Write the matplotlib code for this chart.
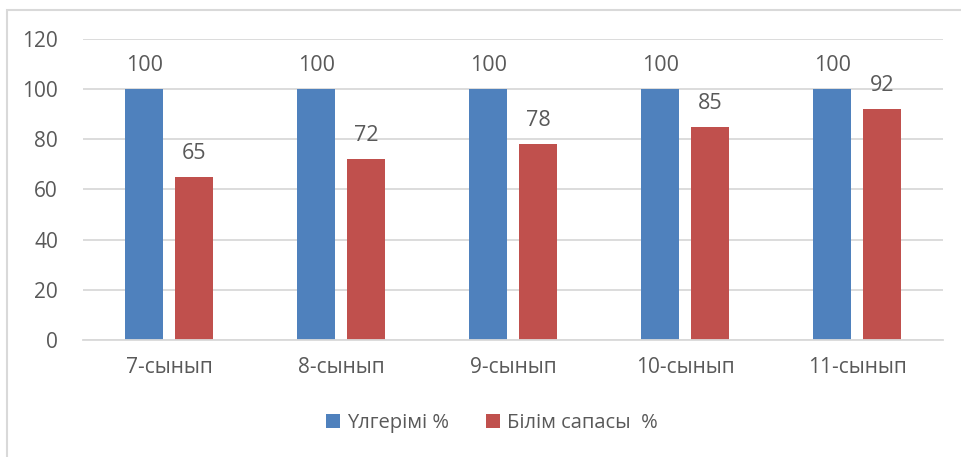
import matplotlib
matplotlib.use("Agg")
import matplotlib.pyplot as plt
from matplotlib.patches import Rectangle, Patch
import numpy as np

categories = ["7-сынып", "8-сынып", "9-сынып", "10-сынып", "11-сынып"]
progress = [100, 100, 100, 100, 100]
quality = [65, 72, 78, 85, 92]
series_names = ["Үлгерімі %", "Білім сапасы  %"]
y_ticks = [0, 20, 40, 60, 80, 100, 120]

BLUE = "#4F81BD"
RED = "#C0504D"
TEXT = "#595959"
GRID = "#D9D9D9"

plt.rcParams["font.family"] = ["Open Sans", "DejaVu Sans"]

W, H = 961, 457
fig = plt.figure(figsize=(W / 100, H / 100), dpi=100)
ax = fig.add_axes([83 / W, 1 - 340 / H, (943 - 83) / W, (340 - 39) / H])

x = np.arange(len(categories))
width = 0.22
offset = 0.145
b1 = ax.bar(x - offset, progress, width, color=BLUE, zorder=3)
b2 = ax.bar(x + offset, quality, width, color=RED, zorder=3)

for bars, vals in ((b1, progress), (b2, quality)):
    for rect, v in zip(bars, vals):
        ax.annotate(f"{v}", (rect.get_x() + rect.get_width() / 2, v),
                    xytext=(0, 9.5), textcoords="offset points",
                    ha="center", va="bottom", fontsize=15.5, color=TEXT)

ax.set_xlim(-0.5, len(categories) - 0.5)
ax.set_ylim(0, 120)
ax.set_yticks(y_ticks)
ax.set_xticks(x)
ax.set_xticklabels(categories)
ax.tick_params(axis="both", length=0, labelsize=15, colors=TEXT)
ax.tick_params(axis="y", pad=18)
ax.tick_params(axis="x", pad=12)
ax.yaxis.grid(True, color=GRID, linewidth=1.3, zorder=0)
for side in ("top", "right", "left"):
    ax.spines[side].set_visible(False)
ax.spines["bottom"].set_color(GRID)
ax.spines["bottom"].set_linewidth(1.3)
ax.spines["bottom"].set_zorder(4)

handles = [Patch(facecolor=BLUE), Patch(facecolor=RED)]
leg = fig.legend(handles, series_names, loc="center", bbox_to_anchor=(492 / W, 1 - 423 / H),
                 ncol=2, frameon=False, fontsize=14.5, handlelength=0.7, handleheight=0.7,
                 handletextpad=0.35, columnspacing=1.8, labelcolor=TEXT)

# outer chart frame
fig.add_artist(Rectangle((6.5 / W, -0.2), 1.2, 1.2 + (1 - 10.5 / H) - 1.0,
                         transform=fig.transFigure, fill=False,
                         edgecolor=GRID, linewidth=1.5))

fig.savefig("out.png", dpi=100)
